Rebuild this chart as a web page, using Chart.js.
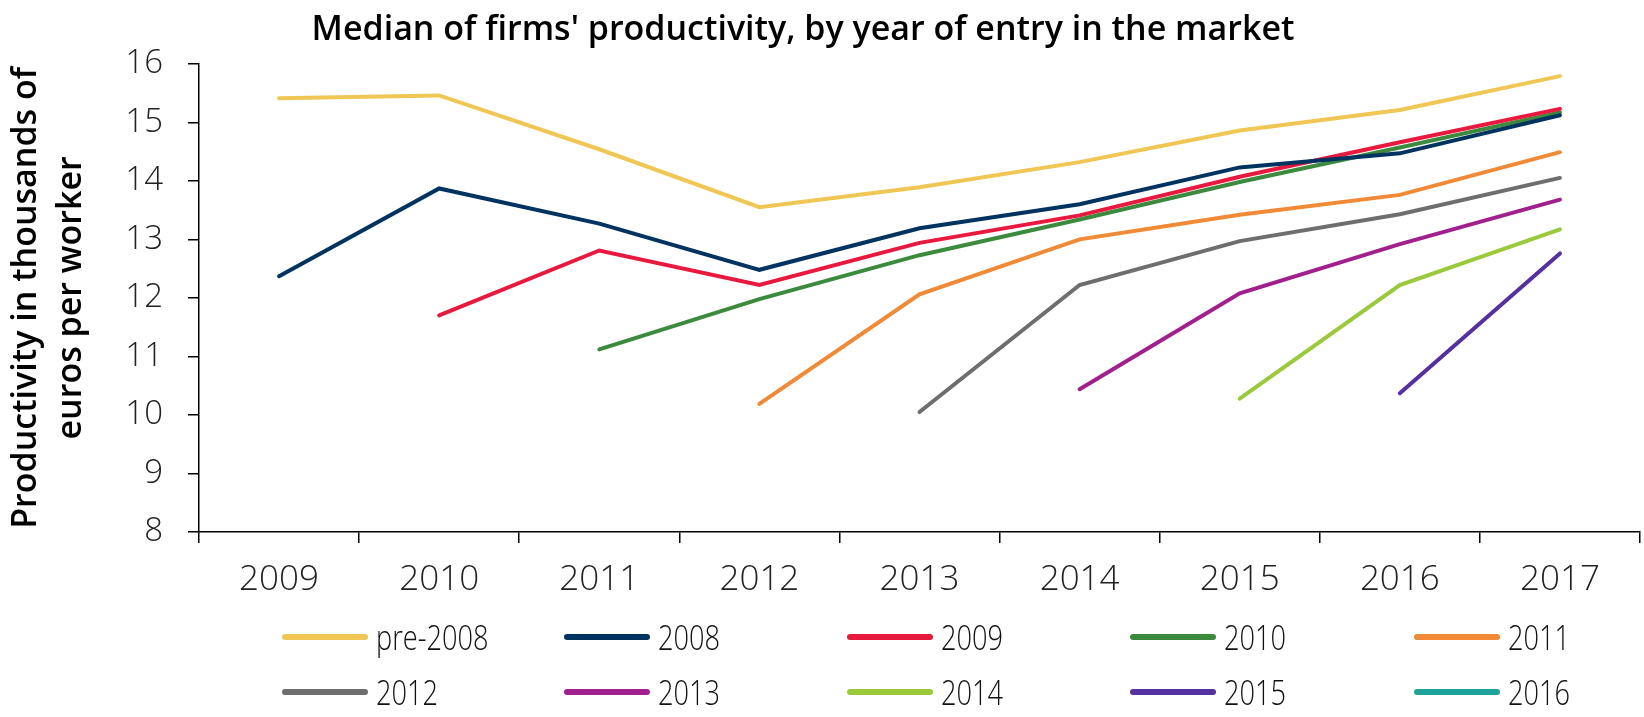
<!DOCTYPE html>
<html>
<head>
<meta charset="utf-8">
<script src="https://cdn.jsdelivr.net/npm/chart.js@4.4.0/dist/chart.umd.min.js"></script>
<style>
html,body{margin:0;padding:0;background:#fff;}
#wrap{position:relative;width:1644px;height:717px;overflow:hidden;}
#c{position:absolute;left:0;top:0;}
#legend{position:absolute;left:0;top:0;width:1644px;height:717px;pointer-events:none;}
.item{position:absolute;display:flex;align-items:center;height:40px;}
.bar{width:86px;height:6px;border-radius:3px;margin-right:8px;flex:none;}
.lbl{font-family:"Open Sans",sans-serif;font-weight:300;font-size:34px;color:#111;line-height:40px;white-space:nowrap;display:inline-block;transform:scaleX(0.8);transform-origin:left center;}
</style>
</head>
<body>
<div id="wrap">
<canvas id="c" width="1644" height="717"></canvas>
<div id="legend"></div>
</div>
<script>
const years = ['2009','2010','2011','2012','2013','2014','2015','2016','2017'];
const seriesNames = ['pre-2008','2008','2009','2010','2011','2012','2013','2014','2015','2016'];
const seriesColors = ['#F0C654','#00335F','#E8193F','#3C8A3E','#F08A37','#6E6E6E','#A2208E','#9ACA3C','#5530A0','#1EA39A'];

const pre2008 = [15.41, 15.46, 14.54, 13.55, 13.89, 14.32, 14.86, 15.21, 15.79];
const entry2008 = [12.37, 13.87, 13.27, 12.48, 13.19, 13.60, 14.23, 14.47, 15.12];
const entry2009 = [null, 11.70, 12.81, 12.22, 12.94, 13.41, 14.07, 14.66, 15.23];
const entry2010 = [null, null, 11.12, 11.98, 12.73, 13.34, 13.98, 14.57, 15.17];
const entry2011 = [null, null, null, 10.19, 12.06, 13.00, 13.42, 13.76, 14.49];
const entry2012 = [null, null, null, null, 10.05, 12.22, 12.97, 13.43, 14.05];
const entry2013 = [null, null, null, null, null, 10.44, 12.08, 12.92, 13.68];
const entry2014 = [null, null, null, null, null, null, 10.28, 12.22, 13.17];
const entry2015 = [null, null, null, null, null, null, null, 10.37, 12.76];
const entry2016 = [null, null, null, null, null, null, null, null, null];

const yMin = 8, yMax = 16, yStep = 1;
const titleText = "Median of firms' productivity, by year of entry in the market";
const yTitle = ['Productivity in thousands of', 'euros per worker'];

const seriesValues = [pre2008, entry2008, entry2009, entry2010, entry2011, entry2012, entry2013, entry2014, entry2015, entry2016];

const datasets = seriesNames.map((name, i) => ({
  label: name,
  data: seriesValues[i],
  borderColor: seriesColors[i],
  backgroundColor: seriesColors[i],
  borderWidth: 4,
  pointRadius: 0,
  pointHoverRadius: 0,
  tension: 0,
  spanGaps: false,
  borderCapStyle: 'round',
  borderJoinStyle: 'miter',
  fill: false
}));

// shift the title block slightly left, as in the original layout
const titleShift = {
  id: 'titleShift',
  afterLayout(chart) {
    const tb = chart.titleBlock;
    if (tb) { tb.left -= 17; tb.right -= 17; }
  }
};

new Chart(document.getElementById('c'), {
  type: 'line',
  data: { labels: years, datasets: datasets },
  plugins: [titleShift],
  options: {
    responsive: false,
    animation: false,
    devicePixelRatio: 1,
    layout: { padding: { left: 0, right: 4, top: 0, bottom: 118 } },
    plugins: {
      legend: { display: false },
      tooltip: { enabled: false },
      title: {
        display: true,
        text: titleText,
        color: '#000',
        font: { family: '"Open Sans", sans-serif', size: 34, weight: '600', lineHeight: 1.2 },
        padding: { top: 10, bottom: 13 }
      }
    },
    scales: {
      x: {
        offset: true,
        grid: { display: true, offset: true, drawOnChartArea: false, drawTicks: true, tickLength: 11, color: '#000', lineWidth: 1.5 },
        border: { display: true, color: '#000', width: 1.5 },
        ticks: { color: '#222', padding: 16, font: { family: '"Open Sans", sans-serif', size: 35, weight: '300' }, maxRotation: 0, autoSkip: false },
        afterFit: (s) => { s.height = 67; }
      },
      y: {
        min: yMin, max: yMax,
        grid: { display: true, drawOnChartArea: false, drawTicks: true, tickLength: 11, color: '#000', lineWidth: 1.5 },
        border: { display: true, color: '#000', width: 1.5 },
        ticks: { stepSize: yStep, color: '#222', padding: 25, font: { family: '"Open Sans", sans-serif', size: 33, weight: '300' } },
        title: {
          display: true,
          text: yTitle,
          color: '#000',
          font: { family: '"Open Sans", sans-serif', size: 34, weight: '600', lineHeight: 1.32 },
          padding: { top: 4, bottom: 0 }
        },
        afterFit: (s) => { s.width = 199; }
      }
    }
  }
});

// HTML legend built from the series names/colours
const legendEl = document.getElementById('legend');
const legendCols = [282, 564, 847, 1130, 1414];
const legendRows = [637, 692];
seriesNames.forEach((name, i) => {
  const item = document.createElement('div');
  item.className = 'item';
  item.style.left = legendCols[i % 5] + 'px';
  item.style.top = (legendRows[Math.floor(i / 5)] - 20) + 'px';
  const bar = document.createElement('div');
  bar.className = 'bar';
  bar.style.background = seriesColors[i];
  const lbl = document.createElement('span');
  lbl.className = 'lbl';
  lbl.textContent = name;
  item.appendChild(bar);
  item.appendChild(lbl);
  legendEl.appendChild(item);
});
</script>
</body>
</html>
